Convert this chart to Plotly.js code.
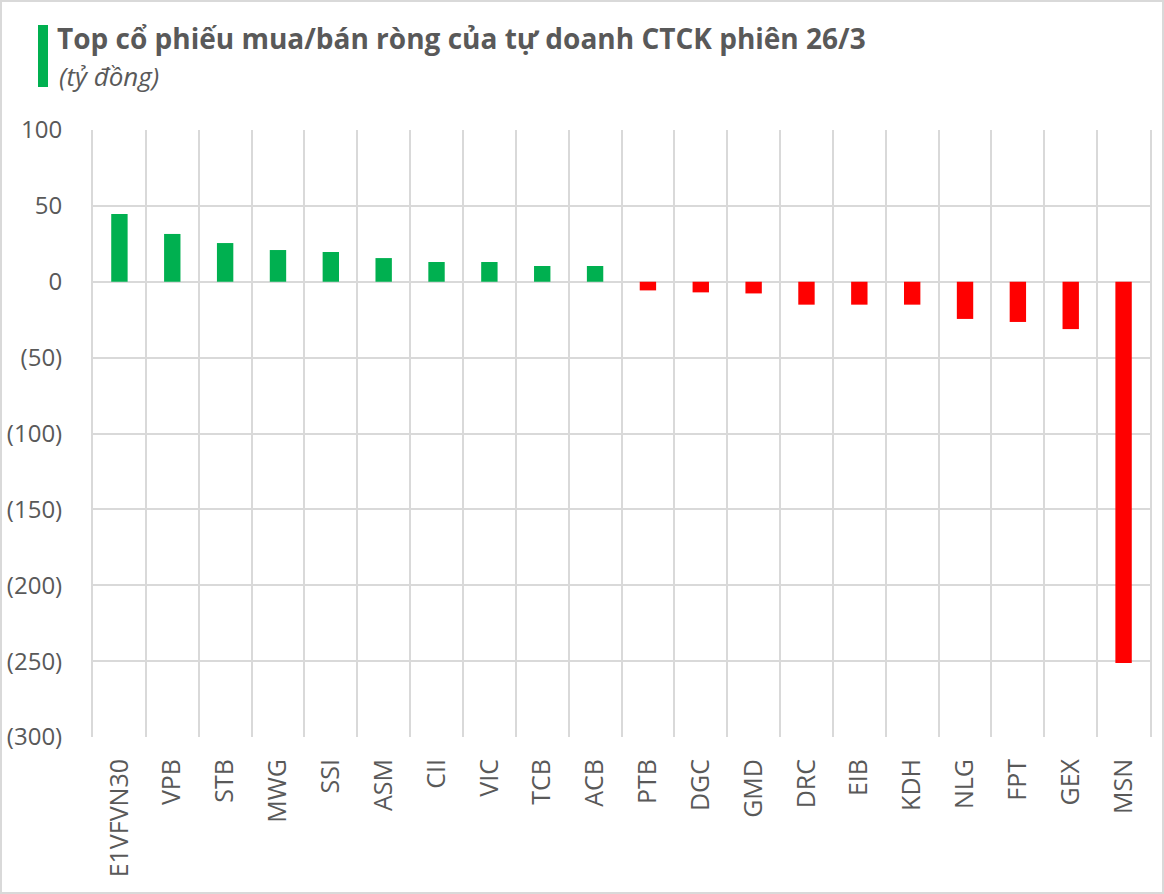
<!DOCTYPE html>
<html>
<head>
<meta charset="utf-8">
<script src="https://cdn.plot.ly/plotly-3.0.1.min.js"></script>
<style>
  html, body { margin: 0; padding: 0; background: #fff; }
  #wrap { width: 1164px; height: 894px; box-sizing: border-box; border: 2px solid #d9d9d9; position: relative; overflow: hidden; }
  #chart { position: absolute; left: -2px; top: -2px; width: 1164px; height: 894px; }
</style>
</head>
<body>
<div id="wrap"><div id="chart"></div></div>
<script>
const categories = ["E1VFVN30","VPB","STB","MWG","SSI","ASM","CII","VIC","TCB","ACB",
                    "PTB","DGC","GMD","DRC","EIB","KDH","NLG","FPT","GEX","MSN"];
const values = [44.7, 31.5, 25.5, 20.9, 19.6, 15.6, 13.0, 13.0, 10.4, 10.4,
                -5.7, -7.0, -7.7, -15.1, -15.1, -15.1, -24.5, -26.5, -31.2, -251.3];
const yTickVals = [100, 50, 0, -50, -100, -150, -200, -250, -300];
const yTickText = ["100", "50", "0", "(50)", "(100)", "(150)", "(200)", "(250)", "(300)"];
const titleText = "Top cổ phiếu mua/bán ròng của tự doanh CTCK phiên 26/3";
const subtitleText = "(tỷ đồng)";

const GREEN = "#00B050", RED = "#FF0000", GRID = "#d9d9d9", TXT = "#595959";
const barColors = values.map(v => v >= 0 ? GREEN : RED);

const trace = {
  type: "bar",
  x: categories,
  y: values,
  marker: { color: barColors, line: { width: 0 } },
  width: 0.31,
  hoverinfo: "x+y"
};

const layout = {
  width: 1164, height: 894,
  margin: { l: 93, r: 14, t: 130, b: 157 },
  paper_bgcolor: "rgba(0,0,0,0)",
  plot_bgcolor: "#fff",
  showlegend: false,
  font: { family: "Open Sans, sans-serif", color: TXT },
  title: {
    text: "<b>" + titleText + "</b>",
    font: { family: "Open Sans, sans-serif", size: 28, color: TXT },
    xref: "container", yref: "container",
    x: 57 / 1164, xanchor: "left",
    y: 1 - 39 / 894, yanchor: "middle"
  },
  annotations: [{
    text: "<i>" + subtitleText + "</i>",
    xref: "paper", yref: "paper",
    x: (57 - 93) / 1057, xanchor: "left",
    y: 1 + (130 - 76) / 607, yanchor: "middle",
    showarrow: false,
    font: { family: "Open Sans, sans-serif", size: 26, color: TXT }
  }],
  shapes: [{
    type: "rect", xref: "paper", yref: "paper",
    x0: (38 - 93) / 1057, x1: (48 - 93) / 1057,
    y0: 1 + (130 - 87) / 607, y1: 1 + (130 - 25) / 607,
    fillcolor: GREEN, line: { width: 0 }
  }],
  xaxis: {
    type: "category",
    tickson: "boundaries",
    showgrid: true, gridcolor: GRID, gridwidth: 2,
    showline: false, zeroline: false,
    ticks: "",
    tickangle: -90,
    ticklabelstandoff: 16,
    tickfont: { family: "Open Sans, sans-serif", size: 25, color: TXT },
    fixedrange: true
  },
  yaxis: {
    range: [-300, 100],
    tickvals: yTickVals,
    ticktext: yTickText,
    showgrid: true, gridcolor: GRID, gridwidth: 2,
    zeroline: true, zerolinecolor: GRID, zerolinewidth: 2,
    showline: true, linecolor: GRID, linewidth: 2, mirror: true,
    ticks: "",
    ticklabelstandoff: 24,
    tickfont: { family: "Open Sans, sans-serif", size: 24, color: TXT },
    fixedrange: true
  }
};

Plotly.newPlot("chart", [trace], layout, { displayModeBar: false, staticPlot: true });
</script>
</body>
</html>
